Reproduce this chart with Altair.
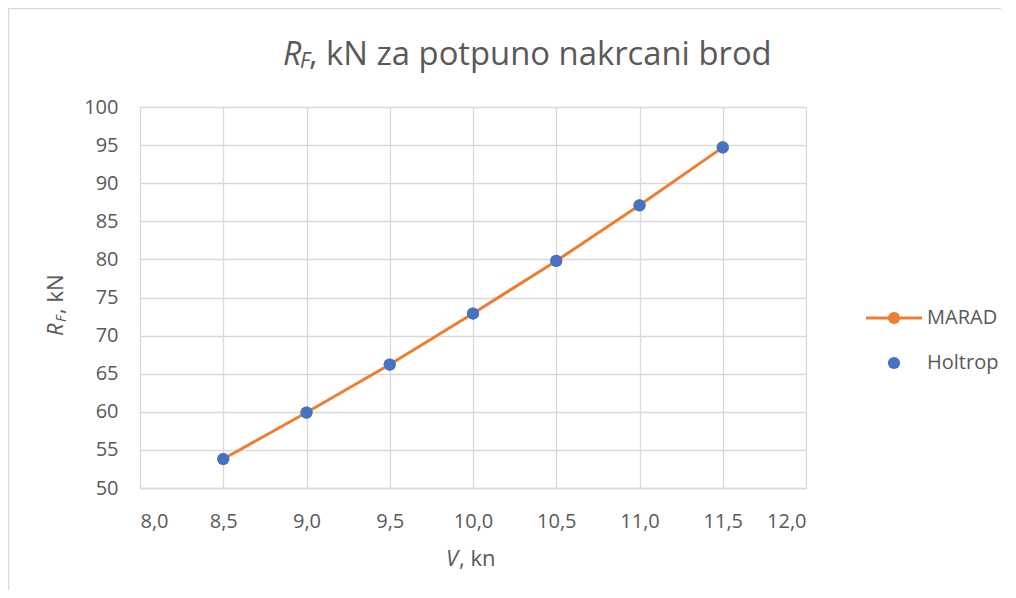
import altair as alt
import pandas as pd

# ---- data ----
V = [8.5, 9.0, 9.5, 10.0, 10.5, 11.0, 11.5]
MARAD = [53.8, 59.9, 66.2, 72.9, 79.8, 87.1, 94.7]
HOLTROP = [53.8, 59.9, 66.2, 72.9, 79.8, 87.1, 94.7]
X_TICKS = [8.0, 8.5, 9.0, 9.5, 10.0, 10.5, 11.0, 11.5, 12.0]
Y_TICKS = [50, 55, 60, 65, 70, 75, 80, 85, 90, 95, 100]
SERIES = ["MARAD", "Holtrop"]
TITLE_PARTS = ["R", "F", ", kN za potpuno nakrcani brod"]
YTITLE_PARTS = ["R", "F", ", kN"]
XTITLE_PARTS = ["V", ", kn"]

ORANGE = "#ED7D31"
BLUE = "#4472C4"
GREY = "#595959"
GRID = "#D9D9D9"
FONT = "Open Sans"

df_m = pd.DataFrame({"V": V, "R": MARAD})
df_h = pd.DataFrame({"V": V, "R": HOLTROP})
one = pd.DataFrame({"k": [0]})

x = alt.X(
    "V:Q",
    scale=alt.Scale(domain=[8, 12], nice=False, zero=False),
    axis=alt.Axis(
        values=X_TICKS,
        labelExpr="replace(format(datum.value, '.1f'), '.', ',')",
        title=None,
        ticks=False,
        labelPadding=23,
        domainColor=GRID,
        domainWidth=1.3,
    ),
)
y = alt.Y(
    "R:Q",
    scale=alt.Scale(domain=[50, 100], nice=False, zero=False),
    axis=alt.Axis(values=Y_TICKS, title=None, ticks=False, domain=False, labelPadding=22),
)

line = alt.Chart(df_m).mark_line(color=ORANGE, strokeWidth=3).encode(x=x, y=y)
mpts = alt.Chart(df_m).mark_circle(color=ORANGE, size=145, opacity=1).encode(x=x, y=y)
hpts = alt.Chart(df_h).mark_circle(color=BLUE, size=150, opacity=1).encode(x=x, y=y)


def txt(s, px, py, size, italic=False, angle=0, align="left", baseline="alphabetic"):
    kw = dict(
        text=s,
        fontSize=size,
        font=FONT,
        fontStyle="italic" if italic else "normal",
        color=GREY,
        align=align,
        baseline=baseline,
    )
    if angle:
        kw["angle"] = angle
    return alt.Chart(one).mark_text(**kw).encode(x=alt.value(px), y=alt.value(py))


# title pieces
t1 = txt(TITLE_PARTS[0], 143, -42, 32, italic=True)
t2 = txt(TITLE_PARTS[1], 160, -39, 21, italic=True)
t3 = txt(TITLE_PARTS[2], 169, -42, 32.8)

# y axis title (rotated)
y1 = txt(YTITLE_PARTS[0], -77, 229, 22, italic=True, angle=270)
y2 = txt(YTITLE_PARTS[1], -74, 215, 14, italic=True, angle=270)
y3 = txt(YTITLE_PARTS[2], -77, 207, 22, angle=270)

# x axis title
x1 = txt(XTITLE_PARTS[0], 306, 459, 22, italic=True)
x2 = txt(XTITLE_PARTS[1], 319, 459, 22)

# legend
leg_line = alt.Chart(one).mark_rule(color=ORANGE, strokeWidth=3).encode(
    x=alt.value(726), x2=alt.value(782), y=alt.value(211)
)
leg_m = alt.Chart(one).mark_circle(color=ORANGE, size=150, opacity=1).encode(
    x=alt.value(754), y=alt.value(211)
)
leg_h = alt.Chart(one).mark_circle(color=BLUE, size=150, opacity=1).encode(
    x=alt.value(754), y=alt.value(256)
)
leg_t1 = txt(SERIES[0], 787, 211, 20, baseline="middle")
leg_t2 = txt(SERIES[1], 787, 256, 20, baseline="middle")

border = alt.Chart(one).mark_rect(fill="transparent", stroke=GRID, strokeWidth=1.5).encode(
    x=alt.value(-131.5), x2=alt.value(2000), y=alt.value(-98.5), y2=alt.value(2000)
)

chart = (
    alt.layer(
        border, line, mpts, hpts, t1, t2, t3, y1, y2, y3, x1, x2,
        leg_line, leg_m, leg_h, leg_t1, leg_t2,
    )
    .properties(
        width=666,
        height=381,
        autosize=alt.AutoSizeParams(type="none"),
        padding={"left": 132, "top": 99, "right": 195, "bottom": 102},
        background="white",
    )
    .configure_axis(
        labelFont=FONT,
        labelFontSize=20,
        labelColor=GREY,
        gridColor=GRID,
        gridWidth=1.3,
    )
    .configure_view(stroke=None)
)

chart.save("out.html", embed_options={"renderer": "svg", "actions": False})
